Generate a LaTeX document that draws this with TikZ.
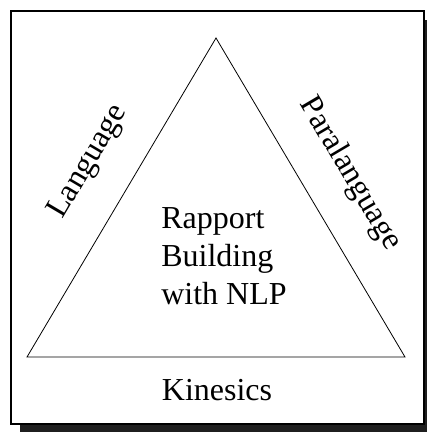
\documentclass[tikz,border=0pt]{standalone}
\usepackage{fontspec}
\setmainfont{Liberation Serif}
\usetikzlibrary{positioning}

\begin{document}
\begin{tikzpicture}[x=1pt,y=-1pt,
  lbl/.style={font=\fontsize{32}{38}\selectfont,inner sep=0pt},
  side/.style={line width=0.8pt}]
  \useasboundingbox (0,0) rectangle (427,432);
  % frame with shadow
  \fill[black!88] (20,20) rectangle (433,433);
  \draw[line width=2pt,fill=white] (11,11) rectangle (424,424);
  % triangle
  \coordinate (apex) at (216,38);
  \coordinate (bl) at (27,357);
  \coordinate (br) at (405,357);
  \draw[side] (bl) -- (apex) -- (br) -- cycle;
  \node[lbl,align=left] (core) at (224,256) {Rapport\\Building\\with NLP};
  \node[lbl,rotate=59.4] (lang) at (89,162) {Language};
  \node[lbl,rotate=-59.4] (para) at (350,174) {Paralanguage};
  \node[lbl] (kin) at (217,390) {Kinesics};
\end{tikzpicture}
\end{document}
